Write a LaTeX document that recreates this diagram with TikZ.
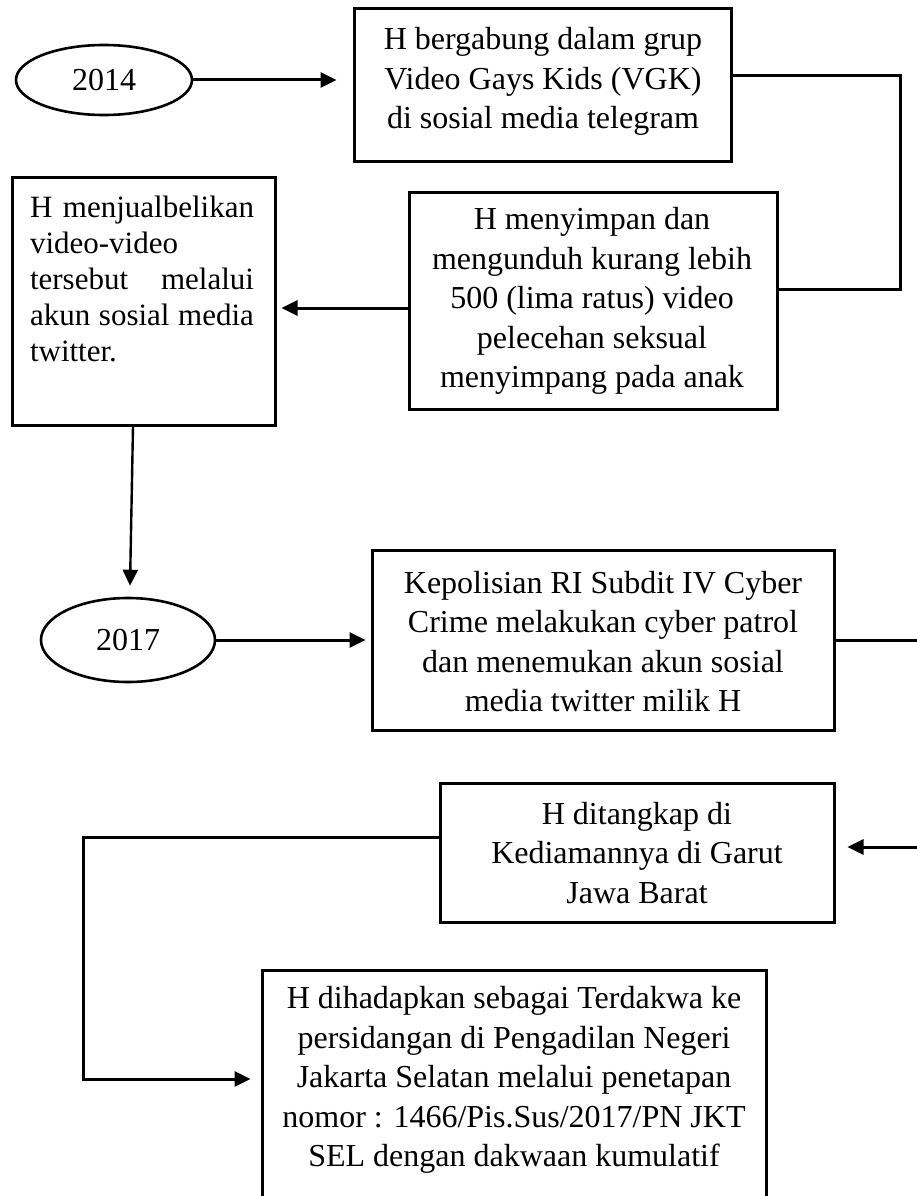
\documentclass[tikz,border=0pt]{standalone}
\usepackage{fontspec}
\setmainfont{Liberation Serif}
\usetikzlibrary{arrows.meta,shapes.geometric}
\begin{document}
\begin{tikzpicture}[x=1pt,y=-1pt,
  box/.style={draw, line width=3pt, rectangle, inner sep=0pt},
  yearnode/.style={draw, ellipse, line width=2.6pt, inner sep=0pt, font=\fontsize{32pt}{39.5pt}\selectfont},
  txt/.style={align=center, inner sep=0pt, font=\fontsize{32pt}{39.5pt}\selectfont},
  txtj/.style={align=left, inner sep=0pt, font=\fontsize{31pt}{36pt}\selectfont},
  conn/.style={line width=3pt},
  arr/.style={conn, -{Triangle[length=16pt,width=15pt]}},
]
\useasboundingbox (0,0) rectangle (917,1196);
\clip (0,0) rectangle (917,1196);

% year ellipses
\node[yearnode, minimum width=176pt, minimum height=70pt] (e14) at (104,80) {2014};
\node[yearnode, minimum width=174pt, minimum height=84pt] (e17) at (128,640) {2017};

% boxes
\node[box, minimum width=377pt, minimum height=152pt] (b1) at (542.5,85) {};
\node[box, minimum width=368pt, minimum height=217pt] (b2) at (593,300.5) {};
\node[box, minimum width=263pt, minimum height=248pt] (b3) at (143.5,301) {};
\node[box, minimum width=462pt, minimum height=180pt] (b4) at (603,640) {};
\node[box, minimum width=394pt, minimum height=139pt] (b5) at (637,852.5) {};
\node[box, minimum width=504pt, minimum height=240pt] (b6) at (514,1090) {};

% texts
\node[txt] (t1) at (543,81.5) {H bergabung dalam grup\\Video Gays Kids (VGK)\\di sosial media telegram};
\node[txt] (t2) at (592,301) {H menyimpan dan\\mengunduh kurang lebih\\500 (lima ratus) video\\pelecehan seksual\\menyimpang pada anak};
\node[txtj] (t3) at (142,279) {\makebox[224pt][s]{H menjualbelikan}\\video-video\\\makebox[224pt][s]{tersebut melalui}\\\makebox[224pt][s]{akun sosial media}\\twitter.};
\node[txt] (t4) at (603,641.5) {Kepolisian RI Subdit IV Cyber\\Crime melakukan cyber patrol\\dan menemukan akun sosial\\media twitter milik H};
\node[txt] (t5) at (637,853) {H ditangkap di\\Kediamannya di Garut\\Jawa Barat};
\node[txt] (t6) at (514,1080) {H dihadapkan sebagai Terdakwa ke\\persidangan di Pengadilan Negeri\\Jakarta Selatan melalui penetapan\\nomor : 1466/Pis.Sus/2017/PN JKT\\SEL dengan dakwaan kumulatif};

% helper coordinates
\coordinate (c1) at (900,76);
\coordinate (c2) at (900,289);
\coordinate (c3) at (409,308);
\coordinate (c4) at (930,640);
\coordinate (c5) at (930,847);
\coordinate (c6) at (83,837);
\coordinate (c7) at (83,1079);

% connectors
\draw[arr, shorten >=16pt] (e14.east) -- (b1.west |- e14.east);
\draw[conn] ([yshift=9pt]b1.east) -- (c1) -- (c2) -- (b2.east |- c2);
\draw[arr, shorten >=5pt] (c3) -- (b3.east |- c3);
\draw[arr, line width=2.4pt] ([xshift=-10.5pt]b3.south) -- ([xshift=2pt,yshift=11pt]e17.north);
\draw[arr, shorten >=5pt] (e17.east) -- (b4.west |- e17.east);
\draw[arr, shorten >=12pt] (b4.east) -- (c4) -- (c5) -- (b5.east |- c5);
\draw[arr, shorten >=10pt] ([yshift=15.5pt]b5.west) -- (c6) -- (c7) -- (b6.west |- c7);
\end{tikzpicture}
\end{document}
